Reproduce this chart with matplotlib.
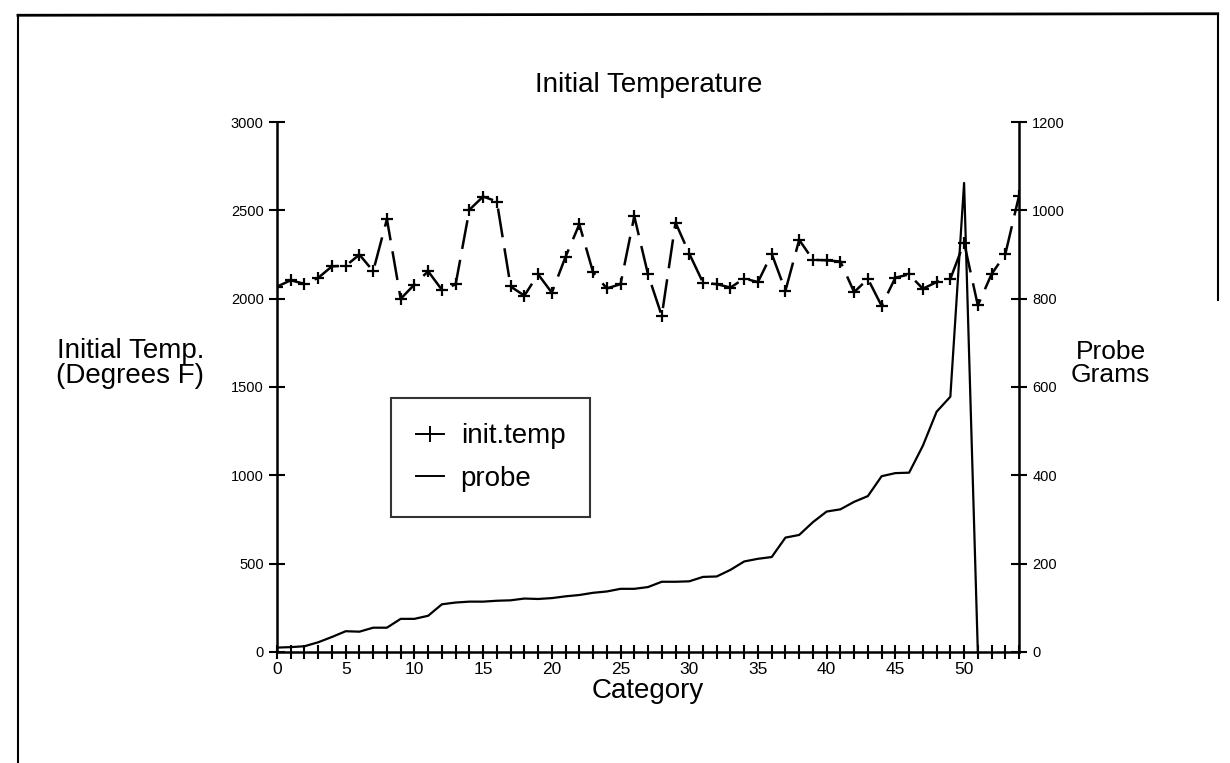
import matplotlib.pyplot as plt
from matplotlib.lines import Line2D
import numpy as np

plt.rcParams['font.family'] = ['Liberation Sans', 'DejaVu Sans']
plt.rcParams['lines.scale_dashes'] = False

# данные
categories = np.arange(55)
init_temp = [2068, 2104, 2084, 2118, 2183, 2186, 2249, 2156, 2450, 1999,
             2080, 2155, 2050, 2081, 2503, 2578, 2550, 2069, 2017, 2138,
             2034, 2237, 2421, 2150, 2058, 2082, 2466, 2137, 1903, 2431,
             2255, 2091, 2082, 2063, 2114, 2094, 2254, 2045, 2333, 2220,
             2217, 2210, 2037, 2112, 1959, 2119, 2137, 2056, 2094, 2112,
             2317, 1962, 2139, 2252, 2583]
probe_cat = np.arange(52)
probe = [10, 11, 13, 22, 34, 47, 46, 55, 55, 75,
         75, 82, 108, 112, 114, 114, 116, 117, 121, 120,
         122, 126, 129, 134, 137, 143, 143, 147, 159, 159,
         160, 170, 171, 186, 205, 211, 215, 259, 265, 294,
         318, 323, 340, 353, 398, 405, 406, 467, 544, 578,
         1062, 0]

x_labels = [str(i) if i % 5 == 0 and i <= 50 else '' for i in categories]
left_ticks = [0, 500, 1000, 1500, 2000, 2500, 3000]
right_ticks = [0, 200, 400, 600, 800, 1000, 1200]

fig = plt.figure(figsize=(12.3, 7.63), dpi=100)

# рамка страницы
fig.add_artist(Line2D([0.0146, 0.0146], [0.0, 0.980], color='black', lw=1.5))
fig.add_artist(Line2D([0.0146, 0.990], [0.980, 0.982], color='black', lw=2))
fig.add_artist(Line2D([0.990, 0.990], [0.982, 0.607], color='black', lw=1.5))

ax = fig.add_axes([0.2252, 0.1455, 0.6033, 0.6946])
ax2 = ax.twinx()

ax.plot(categories, init_temp, color='black', lw=1.8, dashes=(21, 8),
        marker='+', markersize=9, markeredgewidth=1.6, label='init.temp')
ax2.plot(probe_cat, probe, color='black', lw=1.6, label='probe')

ax.set_xlim(0, 54)
ax.set_ylim(0, 3000)
ax2.set_ylim(0, 1200)

ax.set_xticks(categories)
ax.set_xticklabels(x_labels, fontsize=12.5)
ax.set_yticks(left_ticks)
ax.set_yticklabels([str(t) for t in left_ticks], fontsize=10.5)
ax2.set_yticks(right_ticks)
ax2.set_yticklabels([str(t) for t in right_ticks], fontsize=10.5)

ax.tick_params(axis='x', direction='inout', length=10, width=1.5, pad=2)
ax.tick_params(axis='y', direction='inout', length=11, width=1.5, pad=4)
ax2.tick_params(axis='y', direction='inout', length=11, width=1.5, pad=4)

for a in (ax, ax2):
    a.spines['top'].set_visible(False)
    for s in a.spines.values():
        s.set_linewidth(1.8)
ax.spines['right'].set_visible(False)
ax2.spines['left'].set_visible(False)
ax2.spines['bottom'].set_visible(False)

fig.text(0.527, 0.888, 'Initial Temperature', ha='center', va='center', fontsize=20)
fig.text(0.527, 0.095, 'Category', ha='center', va='center', fontsize=20)
fig.text(0.106, 0.523, 'Initial Temp.\n(Degrees F)', ha='center', va='center',
         fontsize=20, linespacing=0.95)
fig.text(0.903, 0.523, 'Probe\nGrams', ha='center', va='center',
         fontsize=19, linespacing=0.95)

h1 = Line2D([], [], color='black', lw=1.4, marker='+', markersize=12, markeredgewidth=1.4)
h2 = Line2D([], [], color='black', lw=1.4)
leg = fig.legend([h1, h2], ['init.temp', 'probe'], loc='center',
                 bbox_to_anchor=(0.399, 0.40, 0.0, 0.0), fontsize=20,
                 frameon=True, fancybox=False, handlelength=1.0,
                 handletextpad=0.6, borderpad=0.9, labelspacing=0.6,
                 borderaxespad=0)
leg.get_frame().set_edgecolor('black')
leg.get_frame().set_linewidth(1.5)

fig.savefig('out.png', dpi=100)
